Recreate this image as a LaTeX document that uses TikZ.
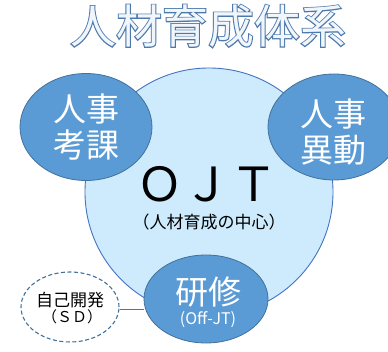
\documentclass[tikz,border=0pt]{standalone}
\usepackage{fontspec}
\usetikzlibrary{shapes.geometric}
\newfontfamily\jp{Noto Sans CJK JP}
\newfontfamily\jpfat[FakeBold=4.2]{Noto Sans CJK JP}
\definecolor{bigfill}{RGB}{205,235,252}
\definecolor{bigdraw}{RGB}{68,114,196}
\definecolor{elfill}{RGB}{91,155,213}
\definecolor{eldraw}{RGB}{65,113,156}
\definecolor{titleline}{RGB}{76,120,172}
\definecolor{titlefill}{RGB}{240,246,252}
\tikzset{
  bigcircle/.style={circle, fill=bigfill, draw=bigdraw, line width=0.9pt, minimum size=248pt, inner sep=0pt},
  blueel/.style={ellipse, fill=elfill, draw=eldraw, line width=0.8pt, inner sep=0pt, text=white, align=center, font=\jp\fontsize{33}{37}\selectfont},
  sdel/.style={ellipse, fill=white, draw=eldraw, dashed, dash pattern=on 4pt off 2.5pt, line width=1.1pt, minimum width=98pt, minimum height=70pt, inner sep=0pt, align=center},
  conn/.style={draw=bigdraw, line width=0.9pt},
  plain/.style={inner sep=0pt}
}
\begin{document}
\begin{tikzpicture}[x=1pt,y=1pt]
\useasboundingbox (0,0) rectangle (388,351);
\clip (0,0) rectangle (388,351);
\node[plain, text=titleline] (titleedge) at (208,325) {\jpfat\fontsize{46}{46}\selectfont 人材育成体系};
\node[plain, text=titlefill] (title) at (titleedge.center) {\jp\fontsize{46}{46}\selectfont 人材育成体系};
\node[bigcircle] (ojt) at (209,159) {};
\node[plain] (ojttext) at (207,167) {\jp\fontsize{47}{47}\selectfont ＯＪＴ};
\node[plain] (ojtsub) at (209,129) {\jp\fontsize{17}{17}\selectfont （人材育成の中心）};
\node[blueel, minimum width=132pt, minimum height=107pt] (kouka) at (86,224) {人事\\[-1pt]考課};
\node[blueel, minimum width=132pt, minimum height=106pt] (idou) at (334,224) {};
\node[plain, text=white, align=center, font=\jp\fontsize{33}{37}\selectfont] (idoutext) at (333,219) {人事\\[-1pt]異動};
\node[blueel, minimum width=124pt, minimum height=88pt] (kenshu) at (206,52) {};
\node[plain, text=white, font=\jp\fontsize{33}{33}\selectfont] (kenshutext) at (208,59) {研修};
\node[plain, text=white, font=\jp\fontsize{16}{16}\selectfont] (offjt) at (208,31) {(Off-JT)};
\node[sdel] (sd) at (70,44) {};
\node[plain, font=\jp\fontsize{17}{17}\selectfont] (sdtext) at (70,51) {自己開発};
\node[plain, font=\jp\fontsize{15}{15}\selectfont] (sdsub) at (72,34) {（ＳＤ）};
\path[conn] (sd.east |- 0,42) -- (kenshu.west |- 0,42);
\end{tikzpicture}
\end{document}
